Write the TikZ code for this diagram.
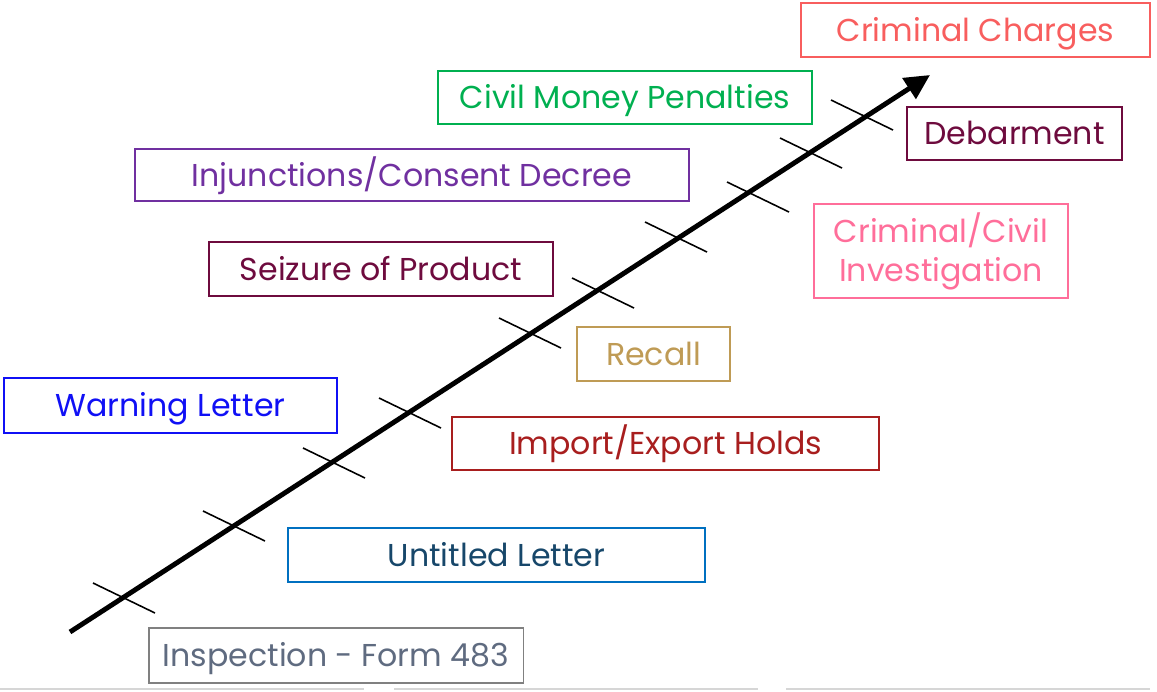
\documentclass[tikz,border=0pt]{standalone}
\usepackage{fontspec}
\setmainfont{Poppins}
\usetikzlibrary{arrows.meta}

\definecolor{crimred}{HTML}{F85E5E}
\definecolor{moneygreen}{HTML}{00B050}
\definecolor{maroon}{HTML}{6E0B3E}
\definecolor{purple}{HTML}{7030A0}
\definecolor{pink}{HTML}{FF6E9A}
\definecolor{gold}{HTML}{BF9B55}
\definecolor{warnblue}{HTML}{1010F5}
\definecolor{holdred}{HTML}{A81E1E}
\definecolor{letterblue}{HTML}{0070C0}
\definecolor{lettertext}{HTML}{17476A}
\definecolor{slate}{HTML}{5F6B80}
\definecolor{lightline}{HTML}{D6D6D6}

\tikzset{
  stage/.style={draw, line width=1.1pt, inner sep=0pt, align=center,
    text height=12.6pt, text depth=0pt,
    font=\fontsize{18}{22}\selectfont},
  tick/.style={line width=0.9pt}
}

\begin{document}
\begin{tikzpicture}[x=0.02cm,y=-0.02cm]
\useasboundingbox (0,0) rectangle (1157,691);

% footer rules
\draw[lightline,line width=1.6pt] (0,689) -- (364,689);
\draw[lightline,line width=1.6pt] (394,689) -- (758,689);
\draw[lightline,line width=1.6pt] (786,689) -- (1150,689);

% the escalation axis
\coordinate (start) at (70,632);
\coordinate (end) at (930,75);
\draw[line width=2.8pt,-{Triangle[length=0.5cm,width=0.48cm]}] (start) -- (end);

\foreach \cx/\cy in {124/598,234/526,334/463,410/413,530/333,603/293,676/237,758/197,811/153,862/115}
  \draw[tick] (\cx-31,\cy-15) -- (\cx+31,\cy+15);

% steps
\node[stage,draw=crimred,text=crimred,minimum width=6.98cm,minimum height=1.08cm] (crim) at (975.5,30) {Criminal Charges};
\node[stage,draw=moneygreen,text=moneygreen,minimum width=7.48cm,minimum height=1.06cm] (money) at (625,97.5) {Civil Money Penalties};
\node[stage,draw=maroon,text=maroon,minimum width=4.3cm,minimum height=1.06cm] (debar) at (1014.5,133.5) {Debarment};
\node[stage,draw=purple,text=purple,minimum width=11.08cm,minimum height=1.04cm] (injunct) at (412,175) {Injunctions/Consent Decree};
\node[stage,draw=pink,text=pink,text height=34.6pt,minimum width=5.08cm,minimum height=1.88cm] (invest) at (941,251) {Criminal/Civil\\Investigation};
\node[stage,draw=maroon,text=maroon,minimum width=6.88cm,minimum height=1.08cm] (seizure) at (381,269) {Seizure of Product};
\node[stage,draw=gold,text=gold,minimum width=3.06cm,minimum height=1.08cm] (recall) at (653.5,354) {Recall};
\node[stage,draw=warnblue,text=warnblue,minimum width=6.66cm,minimum height=1.1cm] (warning) at (170.5,405.5) {Warning Letter};
\node[stage,draw=holdred,text=holdred,minimum width=8.54cm,minimum height=1.06cm] (holds) at (665.5,443.5) {Import/Export Holds};
\node[stage,draw=letterblue,text=lettertext,minimum width=8.34cm,minimum height=1.08cm] (untitled) at (496.5,555) {Untitled Letter};
\node[stage,draw=gray,text=slate,minimum width=7.5cm,minimum height=1.1cm] (inspect) at (336,655.5) {Inspection - Form 483};

\end{tikzpicture}
\end{document}
